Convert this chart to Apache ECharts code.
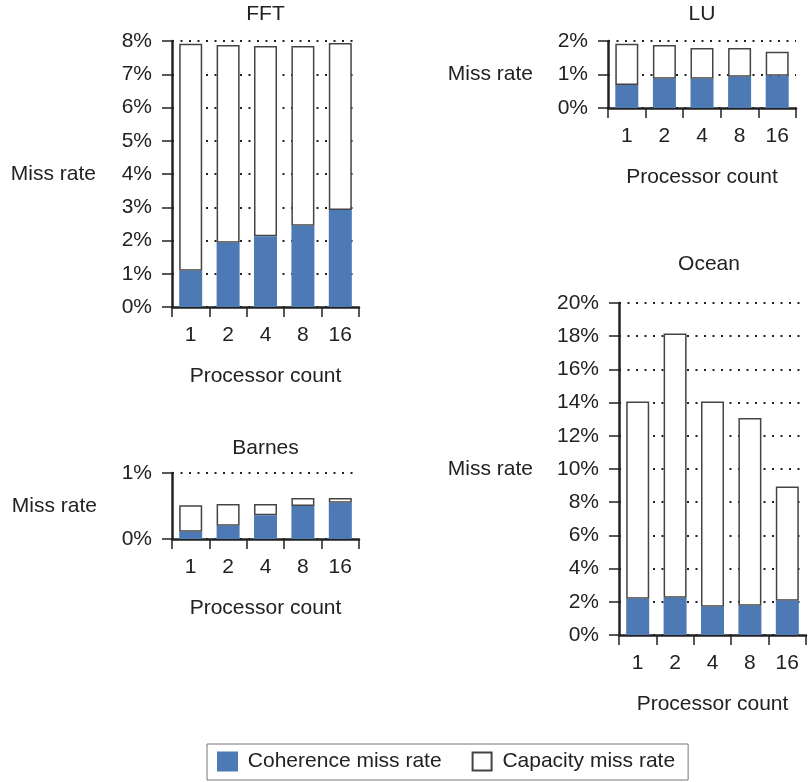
<!DOCTYPE html>
<html>
<head>
<meta charset="utf-8">
<script src="https://cdn.jsdelivr.net/npm/echarts@6/dist/echarts.min.js"></script>
<style>
html,body{margin:0;padding:0;background:#fff;}
#chart{width:812px;height:782px;}
</style>
</head>
<body>
<div id="chart"></div>
<script>
const categories = ['1', '2', '4', '8', '16'];
const fftCoherence = [1.09, 1.93, 2.13, 2.44, 2.92];
const fftCapacity = [6.83, 5.95, 5.72, 5.41, 5.02];
const luCoherence = [0.69, 0.87, 0.87, 0.93, 0.96];
const luCapacity = [1.23, 1.01, 0.92, 0.86, 0.72];
const barnesCoherence = [0.11, 0.20, 0.36, 0.50, 0.55];
const barnesCapacity = [0.40, 0.33, 0.17, 0.12, 0.07];
const oceanCoherence = [2.19, 2.25, 1.70, 1.76, 2.07];
const oceanCapacity = [11.88, 15.92, 12.37, 11.31, 6.88];
const panelTitles = ['FFT', 'LU', 'Barnes', 'Ocean'];
const yMax = [8, 2, 1, 20];
const yInterval = [1, 1, 1, 2];
const seriesNames = ['Coherence miss rate', 'Capacity miss rate'];
const yAxisName = 'Miss rate';
const xAxisName = 'Processor count';

const FONT = "'Liberation Sans', Arial, Helvetica, sans-serif";
const TXT = '#222';
const BLUE = '#4d7ab4';
const FS = 21;

const grids = [
  {left: 172, top: 41, width: 187, height: 266},
  {left: 608, top: 41, width: 188, height: 67},
  {left: 172, top: 473, width: 187, height: 66},
  {left: 619, top: 303, width: 187, height: 332}
];
const titleCenters = [[265.5, 14], [702, 14], [265.5, 448], [709, 264]];
const yNameGaps = [76, 75, 75, 86];
const coh = [fftCoherence, luCoherence, barnesCoherence, oceanCoherence];
const cap = [fftCapacity, luCapacity, barnesCapacity, oceanCapacity];

const chart = echarts.init(document.getElementById('chart'), null, {renderer: 'canvas'});

const option = {
  backgroundColor: '#fff',
  animation: false,
  textStyle: {fontFamily: FONT, color: TXT},
  title: panelTitles.map((t, i) => ({
    text: t,
    left: titleCenters[i][0],
    top: titleCenters[i][1],
    textAlign: 'center',
    textVerticalAlign: 'middle',
    padding: 0,
    textStyle: {fontFamily: FONT, fontSize: FS, fontWeight: 'normal', color: TXT}
  })),
  legend: {
    left: 207,
    top: 744,
    data: seriesNames,
    orient: 'horizontal',
    itemWidth: 19,
    itemHeight: 18,
    itemGap: 30,
    padding: [7, 13, 8, 10],
    borderColor: '#777',
    borderWidth: 1,
    icon: 'rect',
    formatter: n => ' ' + n,
    textStyle: {fontFamily: FONT, fontSize: FS, color: TXT}
  },
  grid: grids.map(g => Object.assign({containLabel: false}, g)),
  xAxis: grids.map((g, i) => ({
    type: 'category',
    gridIndex: i,
    data: categories,
    name: xAxisName,
    nameLocation: 'middle',
    nameGap: 58.5,
    nameTextStyle: {fontFamily: FONT, fontSize: FS, color: TXT},
    axisLine: {show: true, lineStyle: {color: TXT, width: 2.5}},
    axisTick: {show: true, length: 10, lineStyle: {color: TXT, width: 1.5}},
    axisLabel: {margin: 17.5, fontFamily: FONT, fontSize: FS, color: TXT},
    splitLine: {show: false}
  })),
  yAxis: grids.map((g, i) => ({
    type: 'value',
    gridIndex: i,
    min: 0,
    max: yMax[i],
    interval: yInterval[i],
    name: yAxisName,
    nameLocation: 'middle',
    nameRotate: 0,
    nameGap: yNameGaps[i],
    nameTextStyle: {fontFamily: FONT, fontSize: FS, color: TXT, align: 'right', verticalAlign: 'middle'},
    axisLine: {show: true, lineStyle: {color: TXT, width: 2.5}},
    axisTick: {show: true, length: 10, lineStyle: {color: TXT, width: 1.5}},
    axisLabel: {margin: 20, fontFamily: FONT, fontSize: FS, color: TXT, formatter: '{value}%'},
    splitLine: {show: true, lineStyle: {color: TXT, width: 2, type: [2, 6.5]}}
  })),
  series: []
};

for (let i = 0; i < 4; i++) {
  option.series.push({
    name: seriesNames[0],
    type: 'bar',
    xAxisIndex: i,
    yAxisIndex: i,
    stack: 's' + i,
    barWidth: 23,
    z: 3,
    data: coh[i],
    itemStyle: {color: BLUE, borderColor: BLUE, borderWidth: 1.5}
  });
  option.series.push({
    name: seriesNames[1],
    type: 'bar',
    xAxisIndex: i,
    yAxisIndex: i,
    stack: 's' + i,
    barWidth: 23,
    z: 2,
    data: cap[i],
    itemStyle: {color: '#fff', borderColor: '#444', borderWidth: 1.5}
  });
}

chart.setOption(option);
</script>
</body>
</html>
